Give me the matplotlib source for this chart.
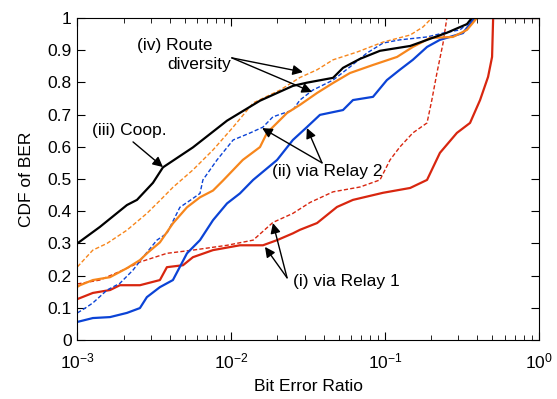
import matplotlib
matplotlib.use("Agg")
import matplotlib.pyplot as plt

plt.rcParams['font.family'] = ['Liberation Sans', 'DejaVu Sans']
plt.rcParams['mathtext.default'] = 'regular'
plt.rcParams['font.size'] = 12.5

# (iii) cooperation, black solid
coop_x = [1.0e-3, 1.40e-3, 2.10e-3, 2.44e-3, 3.10e-3, 3.60e-3, 5.64e-3, 9.40e-3, 1.54e-2, 2.52e-2,
          3.11e-2, 4.60e-2, 5.34e-2, 6.89e-2, 9.29e-2, 0.146, 0.253, 0.342, 0.368, 1.0]
coop_y = [0.30, 0.351, 0.419, 0.435, 0.488, 0.536, 0.598, 0.681, 0.743, 0.789,
          0.799, 0.814, 0.845, 0.873, 0.898, 0.913, 0.954, 0.981, 1.0, 1.0]

# (iv) route diversity, orange solid / dashed
rd_x = [1.0e-3, 1.04e-3, 1.26e-3, 1.63e-3, 2.10e-3, 2.55e-3, 2.88e-3, 3.44e-3, 4.18e-3, 5.16e-3,
        6.27e-3, 7.62e-3, 8.85e-3, 1.19e-2, 1.54e-2, 1.71e-2, 2.31e-2, 2.80e-2, 3.62e-2, 4.60e-2,
        5.93e-2, 8.37e-2, 0.120, 0.152, 0.197, 0.277, 0.342, 0.397, 1.0]
rd_y = [0.165, 0.170, 0.186, 0.195, 0.223, 0.248, 0.272, 0.303, 0.362, 0.412,
        0.443, 0.464, 0.495, 0.559, 0.599, 0.643, 0.705, 0.730, 0.767, 0.798,
        0.829, 0.854, 0.879, 0.910, 0.938, 0.941, 0.963, 1.0, 1.0]
rd2_x = [1.0e-3, 1.26e-3, 1.56e-3, 2.10e-3, 2.83e-3, 3.44e-3, 4.18e-3, 5.64e-3, 7.62e-3, 1.03e-2,
         1.39e-2, 2.08e-2, 2.80e-2, 3.62e-2, 4.60e-2, 6.58e-2, 9.72e-2, 0.146, 0.177, 0.202, 1.0]
rd2_y = [0.227, 0.279, 0.30, 0.341, 0.393, 0.433, 0.474, 0.528, 0.590, 0.661,
         0.736, 0.776, 0.815, 0.839, 0.870, 0.894, 0.925, 0.947, 0.972, 1.0, 1.0]

# (ii) via relay 2, blue solid / dashed
r2_x = [1.0e-3, 1.26e-3, 1.63e-3, 2.10e-3, 2.55e-3, 2.83e-3, 3.44e-3, 4.18e-3, 5.16e-3, 6.27e-3,
        7.62e-3, 9.40e-3, 1.14e-2, 1.39e-2, 1.99e-2, 2.52e-2, 3.11e-2, 3.78e-2, 5.34e-2, 6.20e-2,
        8.37e-2, 0.103, 0.125, 0.152, 0.188, 0.228, 0.322, 0.374, 0.397, 1.0]
r2_y = [0.056, 0.068, 0.071, 0.084, 0.099, 0.133, 0.164, 0.186, 0.269, 0.310,
        0.372, 0.424, 0.455, 0.497, 0.559, 0.621, 0.661, 0.699, 0.714, 0.745,
        0.755, 0.807, 0.839, 0.870, 0.910, 0.932, 0.953, 0.994, 1.0, 1.0]
r2d_x = [1.0e-3, 1.15e-3, 1.26e-3, 1.56e-3, 1.89e-3, 2.30e-3, 2.67e-3, 3.29e-3, 3.82e-3, 4.64e-3,
         5.39e-3, 6.27e-3, 6.55e-3, 8.09e-3, 1.03e-2, 1.33e-2, 1.61e-2, 1.87e-2, 2.52e-2, 2.80e-2,
         3.40e-2, 4.60e-2, 5.93e-2, 7.64e-2, 9.72e-2, 0.125, 0.188, 0.239, 0.308, 0.347, 0.397, 1.0]
r2d_y = [0.084, 0.102, 0.115, 0.155, 0.176, 0.217, 0.257, 0.310, 0.331, 0.412,
         0.433, 0.455, 0.497, 0.559, 0.621, 0.643, 0.661, 0.693, 0.714, 0.745,
         0.776, 0.807, 0.848, 0.891, 0.922, 0.932, 0.941, 0.953, 0.963, 0.984, 1.0, 1.0]

# (i) via relay 1, red solid / dashed
r1_x = [1.0e-3, 1.26e-3, 1.63e-3, 1.89e-3, 2.55e-3, 3.44e-3, 3.82e-3, 4.86e-3, 5.64e-3, 7.62e-3,
        1.14e-2, 1.61e-2, 1.99e-2, 2.52e-2, 2.80e-2, 3.62e-2, 4.88e-2, 6.20e-2, 9.72e-2, 0.146,
        0.188, 0.228, 0.294, 0.358, 0.416, 0.469, 0.498, 0.506, 1.0]
r1_y = [0.127, 0.146, 0.155, 0.170, 0.170, 0.186, 0.226, 0.232, 0.257, 0.279,
        0.294, 0.294, 0.310, 0.331, 0.342, 0.363, 0.413, 0.435, 0.457, 0.472,
        0.497, 0.581, 0.643, 0.674, 0.745, 0.817, 0.879, 1.0, 1.0]
r1d_x = [1.0e-3, 1.40e-3, 1.98e-3, 2.55e-3, 3.82e-3, 5.64e-3, 9.40e-3, 1.39e-2, 1.87e-2, 2.52e-2,
         3.26e-2, 4.60e-2, 6.89e-2, 9.29e-2, 0.108, 0.125, 0.152, 0.188, 0.202, 0.218,
         0.239, 0.253, 1.0]
r1d_y = [0.174, 0.186, 0.217, 0.242, 0.269, 0.279, 0.294, 0.310, 0.365, 0.393,
         0.427, 0.460, 0.475, 0.497, 0.559, 0.599, 0.643, 0.674, 0.745, 0.829,
         0.922, 1.0, 1.0]

yticks = [0, 0.1, 0.2, 0.3, 0.4, 0.5, 0.6, 0.7, 0.8, 0.9, 1]
ytick_labels = ['0', '0.1', '0.2', '0.3', '0.4', '0.5', '0.6', '0.7', '0.8', '0.9', '1']

red = '#d8260f'
blue = '#0b43d6'
orange = '#f7861c'
dash = (3, 1.6)

fig = plt.figure(figsize=(5.57, 3.99), dpi=100)
ax = fig.add_axes([0.139, 0.148, 0.828, 0.807])

ax.plot(r1d_x, r1d_y, color=red, lw=1.0, dashes=dash)
ax.plot(r1_x, r1_y, color=red, lw=1.6)
ax.plot(r2d_x, r2d_y, color=blue, lw=1.0, dashes=dash)
ax.plot(r2_x, r2_y, color=blue, lw=1.6)
ax.plot(rd2_x, rd2_y, color=orange, lw=1.0, dashes=dash)
ax.plot(rd_x, rd_y, color=orange, lw=1.6)
ax.plot(coop_x, coop_y, color='black', lw=1.6)

ax.set_xscale('log')
ax.set_xlim(1e-3, 1)
ax.set_ylim(0, 1)
ax.set_yticks(yticks)
ax.set_yticklabels(ytick_labels)
ax.tick_params(which='both', direction='in', top=True, right=True)
ax.tick_params(which='major', length=6, labelsize=12.5)
ax.tick_params(which='minor', length=3.5)
ax.tick_params(axis='x', pad=8)
ax.tick_params(axis='y', pad=4)
ax.set_xlabel('Bit Error Ratio', labelpad=6)
ax.set_ylabel('CDF of BER', labelpad=10)

arrow = dict(arrowstyle='-|>', color='black', lw=1.0, mutation_scale=15,
             shrinkA=0, shrinkB=0)

# (iv) route diversity
ax.text(2.44e-3, 0.916, '(iv) Route', va='center', ha='left')
ax.text(3.82e-3, 0.854, 'diversity', va='center', ha='left')
ax.annotate('', xy=(2.93e-2, 0.832), xytext=(1.01e-2, 0.876), arrowprops=arrow)
ax.annotate('', xy=(3.36e-2, 0.770), xytext=(1.01e-2, 0.876), arrowprops=arrow)

# (iii) coop
ax.text(1.24e-3, 0.652, '(iii) Coop.', va='center', ha='left')
ax.annotate('', xy=(3.60e-3, 0.537), xytext=(2.30e-3, 0.615), arrowprops=arrow)

# (ii) via relay 2
ax.text(1.84e-2, 0.522, '(ii) via Relay 2', va='center', ha='left')
ax.annotate('', xy=(1.59e-2, 0.658), xytext=(3.90e-2, 0.550), arrowprops=arrow)
ax.annotate('', xy=(3.11e-2, 0.658), xytext=(3.90e-2, 0.550), arrowprops=arrow)

# (i) via relay 1
ax.text(2.52e-2, 0.180, '(i) via Relay 1', va='center', ha='left')
ax.annotate('', xy=(1.66e-2, 0.289), xytext=(2.31e-2, 0.193), arrowprops=arrow)
ax.annotate('', xy=(1.87e-2, 0.363), xytext=(2.31e-2, 0.193), arrowprops=arrow)

fig.savefig('out.png', dpi=100)
